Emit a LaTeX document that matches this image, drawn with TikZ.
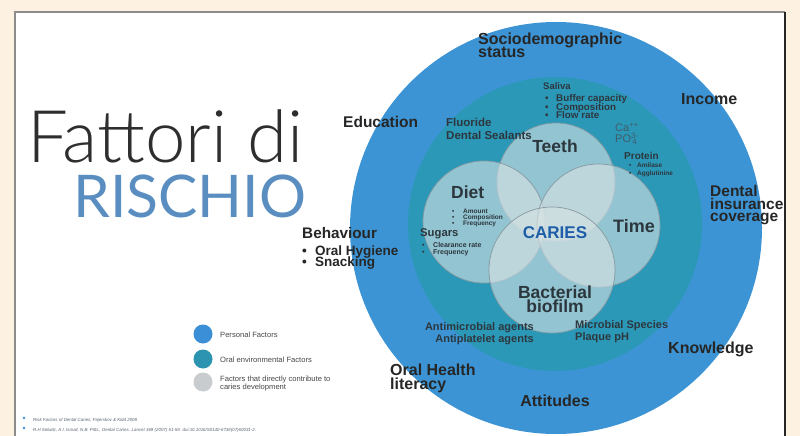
\documentclass[tikz,border=0pt]{standalone}
\usepackage{fontspec}
\usepackage{graphicx}
\setmainfont{Liberation Sans}
\newfontfamily\titlefont{Lato Light}
\newfontfamily\titlefontb{Lato}
\definecolor{bg}{HTML}{FDF1E2}
\definecolor{outerblue}{HTML}{3C94D4}
\definecolor{tealc}{HTML}{2C98B8}
\definecolor{vennc}{HTML}{D8E2E4}
\definecolor{vennline}{HTML}{8799A0}
\definecolor{lab}{HTML}{262626}
\definecolor{inlab}{HTML}{2C373D}
\definecolor{cariesblue}{HTML}{1E5EA8}
\definecolor{rischio}{HTML}{5A8EC0}
\definecolor{titlegray}{HTML}{2E2E2E}
\definecolor{legblue}{HTML}{3B8FD6}
\definecolor{legteal}{HTML}{2C93B0}
\definecolor{leggray}{HTML}{C9CCCF}
\definecolor{chemgray}{HTML}{3F5C6A}
\definecolor{footc}{HTML}{5A6470}
\tikzset{
  lbl/.style={inner sep=0pt, anchor=west, text=lab, text height=.72em, text depth=0pt,
    font=\bfseries\fontsize{#1}{#1}\selectfont},
  lbl/.default=15.5,
  inl/.style={inner sep=0pt, anchor=west, text=inlab, text height=.72em, text depth=0pt,
    font=\bfseries\fontsize{#1}{#1}\selectfont},
  inl/.default=11,
  chem/.style={inner sep=0pt, anchor=west, text=chemgray, text height=.72em, text depth=0pt,
    font=\fontsize{11}{11}\selectfont},
  leg/.style={inner sep=0pt, anchor=west, text=lab!85, text height=.72em, text depth=0pt,
    font=\fontsize{7.6}{7.6}\selectfont},
  foot/.style={inner sep=0pt, anchor=west, text=footc, text height=.72em, text depth=0pt,
    font=\itshape\fontsize{4.4}{4.4}\selectfont},
  venn/.style={fill=vennc, fill opacity=0.6, draw=vennline, draw opacity=1, line width=0.7pt}
}
\begin{document}
\begin{tikzpicture}[x=1pt,y=-1pt]
\useasboundingbox (0,0) rectangle (800,436);
% background and panel
\fill[bg] (0,0) rectangle (800,436);
\fill[white] (15,12) rectangle (785,440);
\draw[color=black!45, line width=1.6pt] (15,440) -- (15,12) -- (785,12);
\draw[color=black!85, line width=1.2pt] (785,12) -- (785,440);

% circles
\fill[outerblue] (556,228) circle[radius=206pt];
\fill[tealc] (555,224) circle[radius=147pt];
\path[venn] (556,182) circle[radius=59pt];
\path[venn] (484,222) circle[radius=61pt];
\path[venn] (598.5,225.5) circle[radius=61.5pt];
\path[venn] (552,270) circle[radius=63pt];

% title
\node[inner sep=0pt, anchor=base west, text=titlegray] (t1) at (27,162) {\resizebox{276pt}{!}{\titlefont Fattori di}};
\node[inner sep=0pt, anchor=base west, text=rischio] (t2) at (73,217) {\resizebox{233pt}{!}{\titlefontb RISCHIO}};

% outer labels
\node[lbl=16] (socio1) at (478,41) {Sociodemographic};
\node[lbl=16] (socio2) at (478,54) {status};
\node[lbl=16] (income) at (681,101) {Income};
\node[lbl] (educ) at (343,124) {Education};
\node[lbl] (dent1) at (710,193) {Dental};
\node[lbl] (dent2) at (710,206) {insurance};
\node[lbl] (dent3) at (710,218) {coverage};
\node[lbl=16] (know) at (668,350) {Knowledge};
\node[lbl=16, anchor=center] (attit) at (555,403) {Attitudes};
\node[lbl=16] (oral1) at (390,372) {Oral Health};
\node[lbl=16] (oral2) at (390,386) {literacy};
\node[lbl=15.3] (behav) at (302,235) {Behaviour};
\node[lbl=13.5] (beh1) at (302,252) {\makebox[13pt][l]{•}Oral Hygiene};
\node[lbl=13.5] (beh2) at (302,263) {\makebox[13pt][l]{•}Snacking};

% venn labels
\node[inl=17.5, anchor=center] (teeth) at (555,149) {Teeth};
\node[inl=17.5] (diet) at (451,195) {Diet};
\node[inl=18] (time) at (613,229) {Time};
\node[inl=17, anchor=center, text=cariesblue] (caries) at (555,235) {CARIES};
\node[inl=17.5, anchor=center] (bact1) at (555,295) {Bacterial};
\node[inl=17.5, anchor=center] (bact2) at (555,309) {biofilm};

% oral environment labels
\node[inl=9.5] (saliva) at (543,86) {Saliva};
\node[inl=9.8] (sal1) at (545,98) {\makebox[11pt][l]{•}Buffer capacity};
\node[inl=9.8] (sal2) at (545,107) {\makebox[11pt][l]{•}Composition};
\node[inl=9.8] (sal3) at (545,115) {\makebox[11pt][l]{•}Flow rate};
\node[inl=11.5] (fluor) at (446,123) {Fluoride};
\node[inl=11.5] (seal) at (446,136) {Dental Sealants};
\node[chem] (ca) at (615,128) {Ca\textsuperscript{++}};
\node[chem] (po) at (615,139) {PO\textsuperscript{3-}\kern-6pt\textsubscript{4}};
\node[inl=10] (protein) at (624,156) {Protein};
\node[inl=6.5] (amil) at (629,164) {\makebox[8pt][l]{•}Amilase};
\node[inl=6.5] (agg) at (629,172) {\makebox[8pt][l]{•}Agglutinine};
\node[inl=6.5] (dt1) at (452,210) {\makebox[11pt][l]{•}Amount};
\node[inl=6.5] (dt2) at (452,216) {\makebox[11pt][l]{•}Composition};
\node[inl=6.5] (dt3) at (452,222) {\makebox[11pt][l]{•}Frequency};
\node[inl=11.3] (sugars) at (420,233) {Sugars};
\node[inl=7] (sg1) at (422,244) {\makebox[11pt][l]{•}Clearance rate};
\node[inl=7] (sg2) at (422,251) {\makebox[11pt][l]{•}Frequency};
\node[inl=11, anchor=east] (antim) at (534,327) {Antimicrobial agents};
\node[inl=11, anchor=east] (antip) at (534,339) {Antiplatelet agents};
\node[inl=11] (microb) at (575,325) {Microbial Species};
\node[inl=11] (plaque) at (575,337) {Plaque pH};

% legend
\fill[legblue] (203,334) circle[radius=9.5pt];
\fill[legteal] (203,359) circle[radius=9.5pt];
\fill[leggray] (203,382) circle[radius=9.5pt];
\node[leg] (l1) at (220,334) {Personal Factors};
\node[leg] (l2) at (220,359) {Oral environmental Factors};
\node[leg] (l3) at (220,378) {Factors that directly contribute to};
\node[leg] (l4) at (220,386) {caries development};

% footnotes
\fill[legblue] (24,418) circle[radius=1.4pt];
\fill[legblue] (24,428) circle[radius=1.4pt];
\node[foot] (f1) at (33,418) {Risk Factors of Dental Caries; Fejerskov \& Kidd 2008};
\node[foot] (f2) at (33,428) {R.H Selwitz, A.I. Ismail, N.B. Pitts., Dental Caries. Lancet 369 (2007) 51-59. doi:10.1016/S0140-6736(07)60031-2.};
\end{tikzpicture}
\end{document}
